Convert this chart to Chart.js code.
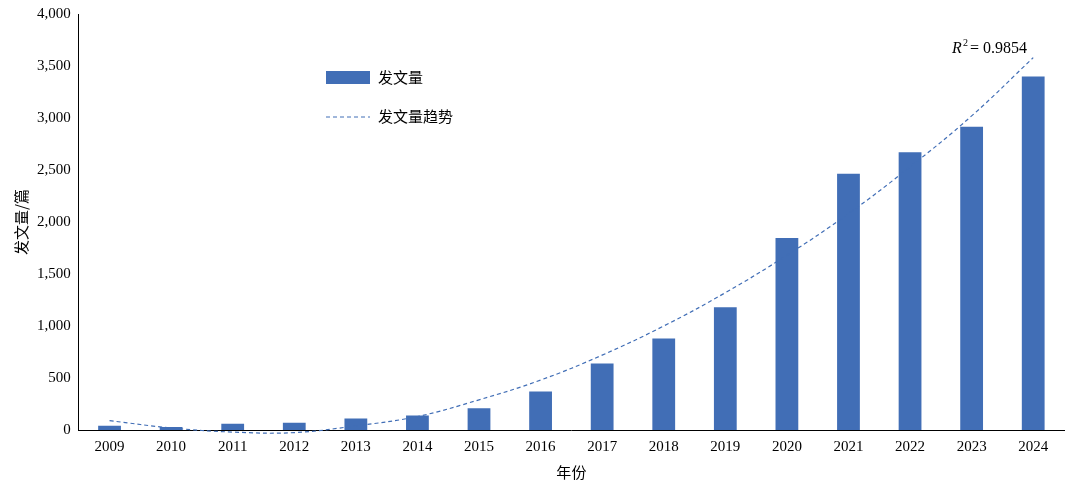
<!DOCTYPE html>
<html><head><meta charset="utf-8">
<script src="https://cdn.jsdelivr.net/npm/chart.js@4"></script>
<style>body{margin:0;background:#fff}#wrap{width:1080px;height:491px}</style>
</head><body><div id="wrap"><canvas id="c"></canvas></div>
<script>
var years = ['2009','2010','2011','2012','2013','2014','2015','2016','2017','2018','2019','2020','2021','2022','2023','2024'];
var papers = [40, 30, 60, 70, 110, 140, 210, 370, 640, 880, 1180, 1845, 2465, 2670, 2915, 3400];
var trend = [90, 20, -20, -25, 40, 130, 290, 480, 720, 1000, 1320, 1680, 2080, 2530, 3020, 3580];
var blue = '#416eb6';
var font = "'Liberation Serif', 'Noto Sans CJK SC', serif";

// legend + R² text drawn inside the plot
var notes = {
  id: 'notes',
  afterDraw: function(chart) {
    var c = chart.ctx;
    c.save();
    c.fillStyle = blue;
    c.fillRect(326, 71, 44, 13);
    c.strokeStyle = blue; c.setLineDash([4, 3]); c.lineWidth = 1;
    c.beginPath(); c.moveTo(326, 117); c.lineTo(370, 117); c.stroke();
    c.setLineDash([]);
    c.fillStyle = '#000';
    c.font = "15px 'Noto Sans CJK SC'";
    c.textBaseline = 'middle';
    c.fillText('发文量', 378, 77);
    c.fillText('发文量趋势', 378, 116);
    c.font = "italic 16px 'Liberation Serif'";
    c.fillText('R', 952, 49);
    c.font = "10px 'Liberation Serif'";
    c.fillText('2', 963, 43);
    c.font = "16px 'Liberation Serif'";
    c.fillText('= 0.9854', 970, 49);
    c.restore();
  }
};

new Chart(document.getElementById('c'), {
  type: 'bar',
  data: {
    labels: years,
    datasets: [{
      label: '发文量', data: papers, backgroundColor: blue,
      barPercentage: 0.37, categoryPercentage: 1, order: 2
    }, {
      type: 'line', label: '发文量趋势', data: trend, borderColor: blue,
      borderWidth: 1.2, borderDash: [4, 3], pointRadius: 0, tension: 0.4,
      clip: false, order: 1
    }]
  },
  plugins: [notes],
  options: {
    responsive: true, maintainAspectRatio: false, animation: false,
    layout: { padding: { left: 8, right: 16, top: 14, bottom: 6 } },
    plugins: { legend: { display: false }, tooltip: { enabled: false } },
    scales: {
      x: {
        grid: { display: false, drawTicks: true, tickLength: 5 },
        border: { color: '#000' },
        ticks: { color: '#000', font: { family: font, size: 15 } },
        title: { display: true, text: '年份', color: '#000', font: { family: "'Noto Sans CJK SC'", size: 15 } }
      },
      y: {
        min: 0, max: 4000,
        grid: { display: false, tickLength: 5 },
        border: { color: '#000' },
        ticks: { stepSize: 500, color: '#000', font: { family: font, size: 15 } },
        title: { display: true, text: '发文量/篇', color: '#000', font: { family: "'Noto Sans CJK SC'", size: 15 } }
      }
    }
  }
});
</script></body></html>
